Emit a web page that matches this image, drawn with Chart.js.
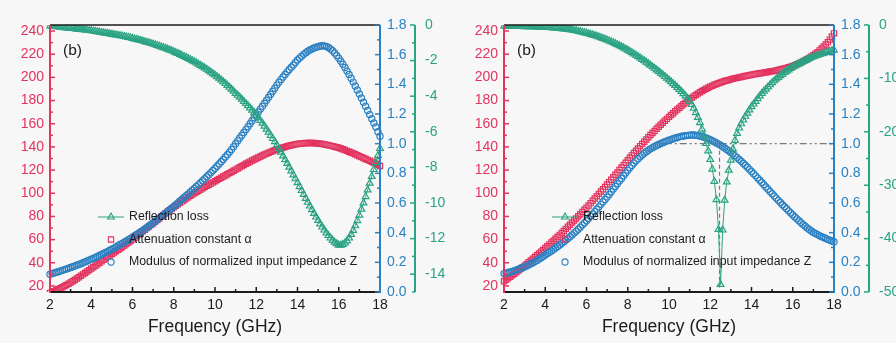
<!DOCTYPE html>
<html>
<head>
<meta charset="utf-8">
<script src="https://cdn.jsdelivr.net/npm/chart.js@4.4.1/dist/chart.umd.min.js"></script>
<style>
  html, body { margin: 0; padding: 0; background: #f7f7f7; }
  #wrap { display: flex; width: 896px; height: 343px; overflow: hidden; }
  canvas { display: block; }
</style>
</head>
<body>
<div id="wrap">
  <canvas id="panelA" width="448" height="343"></canvas>
  <canvas id="panelB" width="448" height="343"></canvas>
</div>
<script>
// frequency grid (GHz)
const freq = [
  2.0,2.1,2.2,2.3,2.4,2.5,2.6,2.7,2.8,2.9,
  3.0,3.1,3.2,3.3,3.4,3.5,3.6,3.7,3.8,3.9,
  4.0,4.1,4.2,4.3,4.4,4.5,4.6,4.7,4.8,4.9,
  5.0,5.1,5.2,5.3,5.4,5.5,5.6,5.7,5.8,5.9,
  6.0,6.1,6.2,6.3,6.4,6.5,6.6,6.7,6.8,6.9,
  7.0,7.1,7.2,7.3,7.4,7.5,7.6,7.7,7.8,7.9,
  8.0,8.1,8.2,8.3,8.4,8.5,8.6,8.7,8.8,8.9,
  9.0,9.1,9.2,9.3,9.4,9.5,9.6,9.7,9.8,9.9,
  10.0,10.1,10.2,10.3,10.4,10.5,10.6,10.7,10.8,10.9,
  11.0,11.1,11.2,11.3,11.4,11.5,11.6,11.7,11.8,11.9,
  12.0,12.1,12.2,12.3,12.4,12.5,12.6,12.7,12.8,12.9,
  13.0,13.1,13.2,13.3,13.4,13.5,13.6,13.7,13.8,13.9,
  14.0,14.1,14.2,14.3,14.4,14.5,14.6,14.7,14.8,14.9,
  15.0,15.1,15.2,15.3,15.4,15.5,15.6,15.7,15.8,15.9,
  16.0,16.1,16.2,16.3,16.4,16.5,16.6,16.7,16.8,16.9,
  17.0,17.1,17.2,17.3,17.4,17.5,17.6,17.7,17.8,17.9,
  18.0
];

// left panel
const alphaA = [
  14.0,14.7,15.5,16.3,17.1,18.0,18.9,19.9,20.9,21.9,
  23.0,24.1,25.2,26.4,27.6,28.8,30.0,31.2,32.5,33.7,
  35.0,36.2,37.5,38.8,40.1,41.4,42.6,43.9,45.2,46.4,
  47.6,48.8,50.0,51.2,52.4,53.6,54.9,56.2,57.5,58.8,
  60.1,61.5,62.9,64.3,65.7,67.1,68.5,69.9,71.3,72.7,
  74.1,75.5,76.9,78.3,79.7,81.1,82.5,83.9,85.3,86.6,
  87.9,89.2,90.5,91.8,93.0,94.2,95.4,96.6,97.8,98.9,
  100.0,101.1,102.2,103.3,104.4,105.4,106.4,107.4,108.4,109.4,
  110.4,111.4,112.4,113.4,114.4,115.4,116.4,117.4,118.4,119.4,
  120.4,121.4,122.4,123.4,124.4,125.4,126.4,127.3,128.2,129.1,
  130.0,130.9,131.8,132.6,133.4,134.2,135.0,135.7,136.4,137.1,
  137.7,138.3,138.9,139.5,140.0,140.5,141.0,141.4,141.8,142.2,
  142.5,142.8,143.0,143.2,143.3,143.4,143.4,143.4,143.3,143.2,
  143.0,142.8,142.5,142.2,141.9,141.5,141.1,140.7,140.2,139.7,
  139.2,138.6,138.0,137.3,136.6,135.9,135.2,134.4,133.6,132.8,
  132.0,131.2,130.4,129.6,128.8,128.0,127.2,126.3,125.4,124.5,
  123.6
];
const zA = [
  0.120,0.124,0.128,0.133,0.137,0.142,0.146,0.151,0.155,0.160,
  0.165,0.170,0.175,0.180,0.186,0.191,0.197,0.203,0.209,0.215,
  0.221,0.227,0.233,0.240,0.246,0.253,0.260,0.267,0.274,0.281,
  0.289,0.296,0.304,0.312,0.320,0.328,0.336,0.344,0.352,0.361,
  0.370,0.379,0.388,0.397,0.406,0.415,0.425,0.435,0.445,0.455,
  0.466,0.477,0.488,0.499,0.510,0.521,0.532,0.543,0.554,0.565,
  0.577,0.589,0.601,0.613,0.625,0.637,0.649,0.661,0.673,0.686,
  0.698,0.711,0.724,0.737,0.750,0.763,0.777,0.791,0.805,0.819,
  0.833,0.848,0.863,0.878,0.894,0.910,0.926,0.943,0.960,0.980,
  1.000,1.019,1.038,1.057,1.076,1.095,1.114,1.134,1.154,1.174,
  1.193,1.213,1.233,1.253,1.273,1.293,1.313,1.333,1.353,1.374,
  1.395,1.414,1.432,1.450,1.467,1.484,1.500,1.516,1.531,1.547,
  1.564,1.577,1.590,1.602,1.613,1.623,1.632,1.639,1.645,1.650,
  1.654,1.658,1.660,1.659,1.655,1.648,1.639,1.627,1.612,1.595,
  1.576,1.556,1.535,1.513,1.490,1.466,1.441,1.415,1.389,1.362,
  1.335,1.308,1.280,1.252,1.224,1.196,1.168,1.140,1.112,1.080,
  1.050
];
const rlA = [
  -0.06,-0.07,-0.08,-0.09,-0.10,-0.12,-0.13,-0.15,-0.16,-0.18,
  -0.19,-0.20,-0.21,-0.23,-0.24,-0.25,-0.27,-0.28,-0.29,-0.31,
  -0.32,-0.34,-0.36,-0.38,-0.40,-0.42,-0.44,-0.46,-0.48,-0.50,
  -0.52,-0.54,-0.56,-0.58,-0.60,-0.62,-0.65,-0.67,-0.70,-0.72,
  -0.75,-0.78,-0.81,-0.84,-0.87,-0.90,-0.94,-0.97,-1.00,-1.04,
  -1.07,-1.11,-1.15,-1.19,-1.23,-1.27,-1.31,-1.36,-1.40,-1.45,
  -1.50,-1.55,-1.60,-1.65,-1.71,-1.77,-1.82,-1.88,-1.94,-2.00,
  -2.06,-2.13,-2.20,-2.27,-2.34,-2.41,-2.49,-2.57,-2.65,-2.73,
  -2.81,-2.90,-2.99,-3.09,-3.19,-3.29,-3.39,-3.50,-3.61,-3.72,
  -3.84,-3.95,-4.06,-4.17,-4.29,-4.41,-4.53,-4.66,-4.79,-4.92,
  -5.06,-5.21,-5.36,-5.52,-5.68,-5.85,-6.02,-6.20,-6.38,-6.56,
  -6.75,-6.95,-7.15,-7.36,-7.57,-7.78,-7.99,-8.20,-8.42,-8.64,
  -8.86,-9.08,-9.30,-9.52,-9.74,-9.96,-10.17,-10.38,-10.59,-10.79,
  -10.98,-11.17,-11.35,-11.52,-11.68,-11.83,-11.97,-12.09,-12.20,-12.29,
  -12.37,-12.37,-12.33,-12.25,-12.13,-11.97,-11.77,-11.54,-11.28,-10.99,
  -10.68,-10.35,-10.00,-9.64,-9.27,-8.89,-8.51,-8.12,-7.73,-7.33,
  -6.93
];

// right panel
const alphaB = [
  24.0,25.3,26.6,27.9,29.2,30.5,31.9,33.3,34.7,36.1,
  37.5,39.0,40.5,42.0,43.5,45.0,46.5,48.0,49.5,51.1,
  52.7,54.3,55.9,57.5,59.1,60.7,62.4,64.1,65.8,67.5,
  69.3,71.1,72.9,74.7,76.5,78.3,80.1,81.9,83.8,85.7,
  87.6,89.5,91.5,93.5,95.5,97.5,99.5,101.5,103.5,105.5,
  107.5,109.6,111.7,113.8,115.9,118.0,120.1,122.2,124.3,126.4,
  128.5,130.6,132.7,134.7,136.7,138.7,140.7,142.6,144.5,146.4,
  148.3,150.2,152.0,153.8,155.6,157.4,159.1,160.8,162.5,164.2,
  165.9,167.5,169.1,170.7,172.3,173.8,175.3,176.8,178.2,179.6,
  181.0,182.3,183.6,184.8,186.0,187.1,188.2,189.2,190.2,191.1,
  192.0,192.8,193.6,194.3,195.0,195.6,196.2,196.8,197.3,197.8,
  198.3,198.8,199.2,199.6,200.0,200.4,200.8,201.2,201.5,201.9,
  202.2,202.6,202.9,203.2,203.5,203.8,204.1,204.4,204.7,205.0,
  205.3,205.6,206.0,206.4,206.8,207.2,207.7,208.2,208.7,209.3,
  209.9,210.6,211.3,212.1,212.9,213.8,214.7,215.7,216.8,217.9,
  219.1,220.4,221.8,223.3,224.9,226.6,228.4,230.4,232.6,235.2,
  238.0
];
const zB = [
  0.124,0.127,0.131,0.135,0.139,0.143,0.148,0.153,0.158,0.164,
  0.170,0.176,0.183,0.190,0.197,0.205,0.213,0.222,0.231,0.240,
  0.250,0.259,0.268,0.277,0.287,0.297,0.307,0.317,0.328,0.339,
  0.350,0.361,0.373,0.385,0.397,0.410,0.423,0.437,0.451,0.465,
  0.480,0.495,0.510,0.526,0.542,0.558,0.574,0.591,0.608,0.624,
  0.641,0.658,0.676,0.694,0.712,0.730,0.748,0.766,0.784,0.802,
  0.820,0.837,0.853,0.869,0.884,0.898,0.911,0.923,0.935,0.946,
  0.956,0.965,0.973,0.981,0.988,0.995,1.001,1.007,1.013,1.018,
  1.023,1.028,1.033,1.038,1.042,1.046,1.049,1.052,1.054,1.056,
  1.057,1.058,1.058,1.057,1.055,1.052,1.048,1.044,1.039,1.033,
  1.027,1.020,1.013,1.005,0.997,0.989,0.980,0.971,0.961,0.951,
  0.941,0.930,0.918,0.906,0.894,0.881,0.868,0.855,0.841,0.827,
  0.813,0.798,0.783,0.768,0.753,0.738,0.723,0.708,0.693,0.678,
  0.663,0.648,0.633,0.618,0.603,0.589,0.575,0.561,0.547,0.533,
  0.519,0.506,0.493,0.480,0.467,0.455,0.443,0.432,0.421,0.411,
  0.401,0.394,0.387,0.380,0.373,0.367,0.361,0.355,0.349,0.344,
  0.339
];
const rlB = [
  -0.20,-0.21,-0.22,-0.23,-0.24,-0.25,-0.26,-0.27,-0.28,-0.29,
  -0.30,-0.31,-0.32,-0.33,-0.34,-0.35,-0.36,-0.38,-0.39,-0.41,
  -0.43,-0.45,-0.47,-0.50,-0.53,-0.56,-0.60,-0.64,-0.68,-0.73,
  -0.78,-0.83,-0.89,-0.95,-1.02,-1.09,-1.17,-1.25,-1.34,-1.44,
  -1.54,-1.64,-1.75,-1.86,-1.98,-2.10,-2.23,-2.37,-2.51,-2.66,
  -2.81,-2.97,-3.14,-3.31,-3.49,-3.68,-3.87,-4.07,-4.28,-4.49,
  -4.71,-4.94,-5.17,-5.41,-5.66,-5.91,-6.17,-6.43,-6.70,-6.97,
  -7.25,-7.53,-7.82,-8.11,-8.41,-8.71,-9.02,-9.33,-9.65,-9.97,
  -10.30,-10.63,-10.97,-11.32,-11.68,-12.05,-12.44,-12.85,-13.28,-13.72,
  -14.3,-14.9,-15.6,-16.4,-17.3,-18.3,-19.5,-20.8,-22.2,-23.6,
  -25.2,-27.0,-29.3,-32.7,-38.3,-48.6,-38.4,-32.8,-29.4,-27.2,
  -25.3,-23.2,-21.6,-20.3,-19.3,-18.5,-17.8,-17.1,-16.5,-15.9,
  -15.3,-14.8,-14.3,-13.8,-13.3,-12.8,-12.4,-12.0,-11.6,-11.2,
  -10.8,-10.45,-10.1,-9.8,-9.5,-9.2,-8.9,-8.65,-8.4,-8.15,
  -7.9,-7.67,-7.45,-7.24,-7.03,-6.83,-6.63,-6.44,-6.26,-6.08,
  -5.92,-5.78,-5.65,-5.52,-5.39,-5.26,-5.13,-5.01,-4.89,-4.78,
  -4.70
];
// impedance matching guides (right panel): |Z| = 1 and the RL minimum
const matchLineF = [9.55, 18];
const matchLineZ = [1.0, 1.0];
const matchDropF = [12.45, 12.45];
const matchDropZ = [1.0, 0.03];

const seriesLabels = ['Reflection loss', 'Attenuation constant \u03b1', 'Modulus of normalized input impedance Z'];

// axis ticks
const xTicks = [2, 4, 6, 8, 10, 12, 14, 16, 18];
const xMinor = [3, 5, 7, 9, 11, 13, 15, 17];
const alphaTicks = [20, 40, 60, 80, 100, 120, 140, 160, 180, 200, 220, 240];
const alphaMinor = [30, 50, 70, 90, 110, 130, 150, 170, 190, 210, 230];
const zTicks = [0, 0.2, 0.4, 0.6, 0.8, 1.0, 1.2, 1.4, 1.6, 1.8];
const zMinor = [0.1, 0.3, 0.5, 0.7, 0.9, 1.1, 1.3, 1.5, 1.7];
const rlTicksA = [0, -2, -4, -6, -8, -10, -12, -14];
const rlMinorA = [-1, -3, -5, -7, -9, -11, -13, -15];
const rlTicksB = [0, -10, -20, -30, -40, -50];
const rlMinorB = [-5, -15, -25, -35, -45];

const RED = '#e3335f';
const BLUE = '#2b80c2';
const GREEN = '#2aa383';
const INK = '#1b1b1b';
const FONT = '"Liberation Sans", Arial, sans-serif';

const seg = (ctx, x1, y1, x2, y2, color, w) => {
  ctx.strokeStyle = color;
  ctx.lineWidth = w;
  ctx.beginPath();
  ctx.moveTo(x1, y1);
  ctx.lineTo(x2, y2);
  ctx.stroke();
};

// axis lines + inward ticks, drawn over the markers like the original
const framePlugin = {
  id: 'frame',
  afterDatasetsDraw(chart, _args, o) {
    const { ctx, chartArea: a, scales: s } = chart;
    ctx.save();
    ctx.setLineDash([]);
    seg(ctx, a.left, a.top, a.right, a.top, INK, 1.5);
    seg(ctx, a.left, a.bottom, a.right, a.bottom, INK, 2);
    xTicks.forEach(v => { const x = s.x.getPixelForValue(v); seg(ctx, x, a.bottom, x, a.bottom - 5, INK, 1.5); });
    xMinor.forEach(v => { const x = s.x.getPixelForValue(v); seg(ctx, x, a.bottom, x, a.bottom - 3, INK, 1.5); });

    seg(ctx, a.left, a.top, a.left, a.bottom + 1, RED, 2);
    alphaTicks.forEach(v => { const y = s.y.getPixelForValue(v); seg(ctx, a.left, y, a.left + 5, y, RED, 1.5); });
    alphaMinor.forEach(v => { const y = s.y.getPixelForValue(v); seg(ctx, a.left, y, a.left + 3, y, RED, 1.5); });

    seg(ctx, a.right, a.top, a.right, a.bottom + 1, BLUE, 2);
    zTicks.forEach(v => { const y = s.y1.getPixelForValue(v); seg(ctx, a.right, y, a.right - 5, y, BLUE, 1.5); });
    zMinor.forEach(v => { const y = s.y1.getPixelForValue(v); seg(ctx, a.right, y, a.right - 3, y, BLUE, 1.5); });

    const gx = s.y2.left;
    seg(ctx, gx, a.top, gx, a.bottom, GREEN, 2);
    o.rlTicks.forEach(v => { const y = s.y2.getPixelForValue(v); seg(ctx, gx, y, gx - 5, y, GREEN, 1.5); });
    o.rlMinor.forEach(v => { const y = s.y2.getPixelForValue(v); seg(ctx, gx, y, gx - 3, y, GREEN, 1.5); });
    ctx.restore();
  }
};

// legend inside the plot and the panel tag
const keyPlugin = {
  id: 'key',
  afterDraw(chart, _args, o) {
    const ctx = chart.ctx;
    ctx.save();
    chart.data.datasets.slice(0, 3).forEach((ds, i) => {
      const y = o.y + i * o.dy;
      if (ds.showLine) seg(ctx, o.x - 13, y, o.x + 13, y, ds.borderColor, 1);
      ctx.strokeStyle = ds.pointBorderColor;
      ctx.fillStyle = 'rgba(0,0,0,0)';
      ctx.lineWidth = 1.1;
      Chart.helpers.drawPoint(ctx, { pointStyle: ds.pointStyle, radius: ds.pointRadius, borderWidth: 1.1, rotation: 0 }, o.x, y);
      ctx.fillStyle = INK;
      ctx.font = `12.3px ${FONT}`;
      ctx.textAlign = 'left';
      ctx.textBaseline = 'middle';
      ctx.fillText(ds.label, o.tx, y);
    });
    ctx.font = `15.5px ${FONT}`;
    ctx.fillText('(b)', o.tagX, o.tagY);
    ctx.restore();
  }
};

const fixTicks = values => scale => { scale.ticks = values.map(v => ({ value: v })); };
const pts = ys => freq.map((f, i) => ({ x: f, y: ys[i] }));
const noGrid = { display: false, drawTicks: false };
const noBorder = { display: false };
const edgeClip = { left: 4, right: 4, top: 0, bottom: 0 };

function buildPanel(canvasId, p) {
  const rl = {
    label: seriesLabels[0], data: pts(p.rl), yAxisID: 'y2', showLine: true, order: 0,
    borderColor: GREEN, borderWidth: 1, pointStyle: 'triangle', pointRadius: 3.9,
    pointBorderColor: GREEN, pointBackgroundColor: 'rgba(0,0,0,0)', pointBorderWidth: 1.2, clip: edgeClip
  };
  const alpha = {
    label: seriesLabels[1], data: pts(p.alpha), yAxisID: 'y', showLine: false, order: 2,
    pointStyle: 'rect', pointRadius: 3.7,
    pointBorderColor: RED, pointBackgroundColor: 'rgba(0,0,0,0)', pointBorderWidth: 1.2, clip: edgeClip
  };
  const z = {
    label: seriesLabels[2], data: pts(p.z), yAxisID: 'y1', showLine: false, order: 1,
    pointStyle: 'circle', pointRadius: 3.1,
    pointBorderColor: BLUE, pointBackgroundColor: 'rgba(0,0,0,0)', pointBorderWidth: 1.2, clip: edgeClip
  };
  const datasets = [rl, alpha, z];
  if (p.guides) {
    datasets.push({
      data: matchLineF.map((f, i) => ({ x: f, y: matchLineZ[i] })), yAxisID: 'y1', showLine: true,
      borderColor: '#7a7a7a', borderWidth: 1.3, borderDash: [7, 3, 2, 3, 2, 3], pointRadius: 0, order: 5
    });
    datasets.push({
      data: matchDropF.map((f, i) => ({ x: f, y: matchDropZ[i] })), yAxisID: 'y1', showLine: true,
      borderColor: '#7a7a7a', borderWidth: 1.2, borderDash: [4, 3], pointRadius: 0, order: 6
    });
  }

  const tickFont = { family: FONT, size: 14 };
  return new Chart(document.getElementById(canvasId), {
    type: 'scatter',
    data: { datasets },
    options: {
      responsive: false,
      animation: false,
      events: [],
      layout: { padding: { top: 25, left: 0, right: 0, bottom: 0 } },
      plugins: {
        legend: { display: false },
        tooltip: { enabled: false },
        frame: { rlTicks: p.rlTicks, rlMinor: p.rlMinor },
        key: p.key
      },
      scales: {
        x: {
          type: 'linear', min: 2, max: 18,
          afterBuildTicks: fixTicks(xTicks),
          afterFit: s => { s.height = 51; },
          grid: noGrid, border: noBorder,
          ticks: { color: INK, font: tickFont, padding: 5, maxRotation: 0, autoSkip: false },
          title: { display: true, text: 'Frequency (GHz)', color: INK, font: { family: FONT, size: 17.5 }, padding: { top: 0, bottom: 5 } }
        },
        y: {
          position: 'left', min: 14.8, max: 245.2,
          afterBuildTicks: fixTicks(alphaTicks),
          afterFit: s => { s.width = p.leftW; },
          grid: noGrid, border: noBorder,
          ticks: { color: RED, font: tickFont, padding: 6, autoSkip: false }
        },
        y1: {
          position: 'right', min: 0, max: 1.8,
          afterBuildTicks: fixTicks(zTicks),
          afterFit: s => { s.width = 35; },
          grid: noGrid, border: noBorder,
          ticks: { color: BLUE, font: tickFont, padding: 7, autoSkip: false, callback: v => v.toFixed(1) }
        },
        y2: {
          position: 'right', min: p.rlMin, max: 0,
          afterBuildTicks: fixTicks(p.rlTicks),
          afterFit: s => { s.width = p.greenW; },
          grid: noGrid, border: noBorder,
          ticks: { color: GREEN, font: tickFont, padding: 10, autoSkip: false }
        }
      }
    },
    plugins: [framePlugin, keyPlugin]
  });
}

buildPanel('panelA', {
  rl: rlA, alpha: alphaA, z: zA, rlMin: -15, rlTicks: rlTicksA, rlMinor: rlMinorA,
  leftW: 50, greenW: 33, guides: false,
  key: { x: 111, tx: 129, y: 217, dy: 22.5, tagX: 63, tagY: 50.5 }
});
buildPanel('panelB', {
  rl: rlB, alpha: alphaB, z: zB, rlMin: -50, rlTicks: rlTicksB, rlMinor: rlMinorB,
  leftW: 56, greenW: 27, guides: true,
  key: { x: 117, tx: 135, y: 217, dy: 22.5, tagX: 69, tagY: 50.5 }
});
</script>
</body>
</html>
